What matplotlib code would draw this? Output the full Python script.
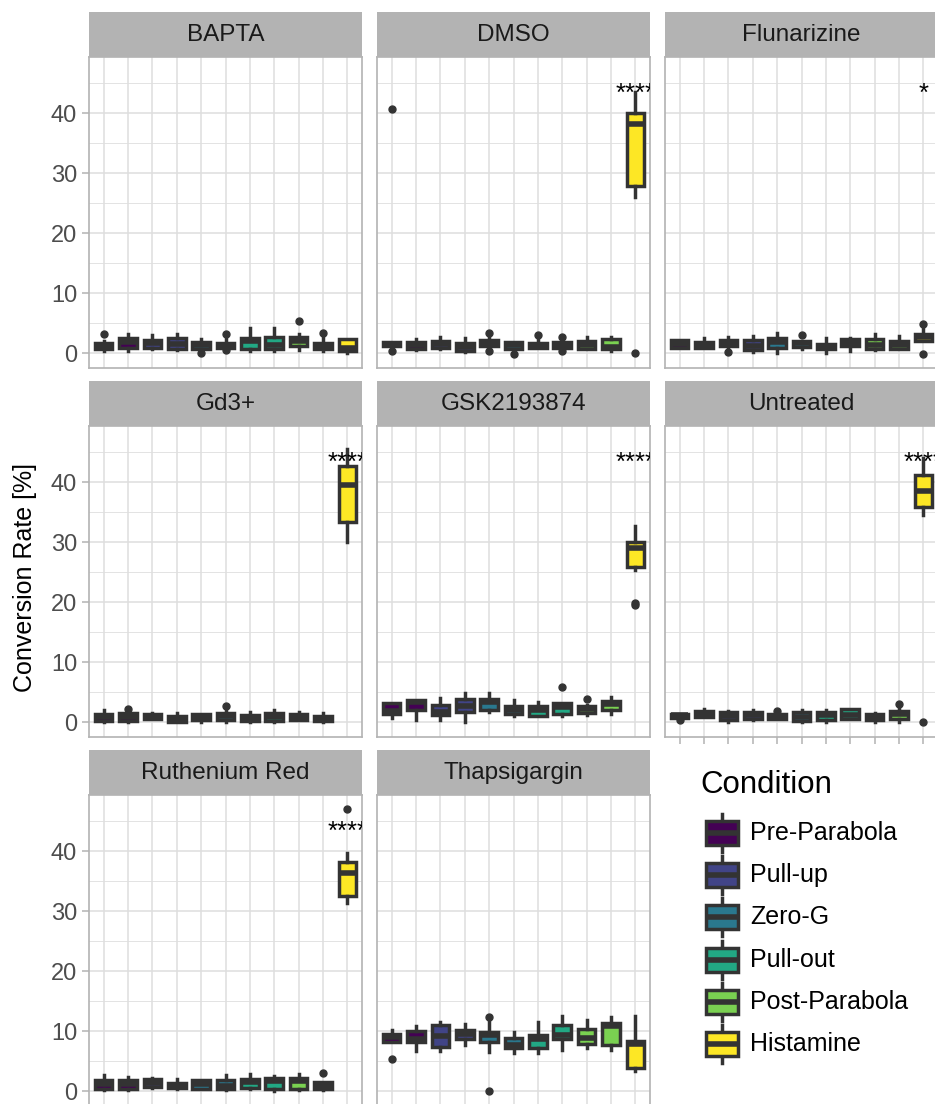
import numpy as np
import matplotlib
matplotlib.use('Agg')
import matplotlib.pyplot as plt
from matplotlib.patches import Rectangle
from matplotlib.ticker import MultipleLocator

plt.rcParams['font.family'] = ['Liberation Sans', 'DejaVu Sans']

# treatments (facets) and conditions (fill)
treatments = ['BAPTA', 'DMSO', 'Flunarizine', 'Gd3+', 'GSK2193874',
              'Untreated', 'Ruthenium Red', 'Thapsigargin']
conditions = ['Pre-Parabola', 'Pull-up', 'Zero-G', 'Pull-out', 'Post-Parabola', 'Histamine']
condition_colors = ['#440154', '#414487', '#2A788E', '#22A884', '#7AD151', '#FDE725']
# condition index of each of the 11 boxes in a panel
box_condition = [0, 0, 1, 1, 2, 2, 3, 3, 4, 4, 5]
stars = ['', '****', '*', '****', '****', '****', '****', '']

# box statistics: whisker low, q1, median, q3, whisker high, outliers
bapta_lo = [0.3, 0.3, 0.6, 0.5, 0.3, 0.8, 0.3, 0.3, 0.5, 0.3, 0.0]
bapta_q1 = [0.7, 0.9, 0.8, 0.7, 0.7, 0.9, 0.7, 0.6, 1.2, 0.6, 0.3]
bapta_med = [1.2, 1.9, 1.6, 1.5, 1.3, 1.3, 2.0, 1.4, 2.0, 1.2, 0.9]
bapta_q3 = [1.6, 2.5, 2.1, 2.5, 1.8, 1.7, 2.5, 2.6, 2.6, 1.7, 2.4]
bapta_hi = [2.0, 3.1, 3.0, 3.1, 2.3, 2.3, 4.1, 4.2, 3.1, 2.6, 2.4]
bapta_out = [[3.1], [], [], [], [0.0], [3.1, 0.45], [], [], [5.3], [3.4], []]

dmso_lo = [0.9, 0.45, 0.6, 0.2, 0.9, 0.7, 0.9, 0.8, 0.7, 0.3, 26.0]
dmso_q1 = [1.1, 0.7, 0.9, 0.3, 1.1, 0.7, 0.9, 0.9, 0.7, 0.6, 27.9]
dmso_med = [1.5, 1.3, 1.5, 1.0, 1.7, 1.4, 1.2, 1.3, 1.4, 1.0, 38.3]
dmso_q3 = [1.8, 1.8, 2.0, 1.7, 2.2, 1.9, 1.6, 1.8, 2.0, 2.3, 40.1]
dmso_hi = [1.8, 2.3, 2.7, 2.5, 2.5, 1.9, 2.3, 2.3, 2.7, 2.7, 43.6]
dmso_out = [[0.3, 40.7], [], [], [], [3.3, 0.3], [-0.1], [3.0], [2.7, 0.3], [], [], [0.0]]

flun_lo = [0.9, 0.8, 0.8, 0.2, 0.05, 0.6, 0.05, 0.3, 0.5, 0.7, 2.0]
flun_q1 = [0.9, 0.8, 1.1, 0.45, 0.9, 1.0, 0.6, 1.1, 0.7, 0.7, 2.0]
flun_med = [1.5, 1.2, 1.6, 1.1, 1.9, 1.6, 1.0, 1.7, 1.3, 1.4, 2.7]
flun_q3 = [2.1, 1.8, 2.1, 2.2, 2.5, 2.0, 1.45, 2.3, 2.4, 2.0, 3.1]
flun_hi = [2.1, 2.5, 2.7, 2.8, 3.4, 2.0, 2.5, 2.5, 3.2, 2.8, 4.0]
flun_out = [[], [], [0.2], [], [], [3.0], [], [], [], [], [4.8, -0.1]]

gd_lo = [0.0, 0.0, 0.5, 0.0, 0.0, 0.0, 0.0, 0.0, 0.3, 0.0, 30.0]
gd_q1 = [0.2, 0.2, 0.55, 0.0, 0.3, 0.3, 0.1, 0.2, 0.3, 0.2, 33.4]
gd_med = [0.8, 0.9, 1.0, 0.5, 0.9, 1.0, 0.7, 0.9, 0.9, 0.6, 39.5]
gd_q3 = [1.4, 1.45, 1.4, 1.0, 1.4, 1.55, 1.2, 1.5, 1.4, 1.0, 42.8]
gd_hi = [2.0, 1.7, 1.55, 1.55, 1.4, 2.0, 1.7, 2.0, 1.7, 1.45, 45.5]
gd_out = [[], [2.2], [], [], [], [2.7], [], [], [], [], []]

gsk_lo = [0.7, 0.3, 0.3, 0.0, 1.6, 1.0, 1.0, 1.0, 1.2, 1.3, 25.3]
gsk_q1 = [1.4, 1.96, 1.2, 1.6, 2.0, 1.3, 1.0, 1.4, 1.45, 2.0, 25.9]
gsk_med = [1.85, 3.4, 1.7, 2.7, 3.4, 2.0, 2.0, 2.5, 2.1, 3.0, 29.0]
gsk_q3 = [3.25, 3.7, 2.8, 3.8, 3.8, 2.7, 2.7, 3.1, 2.6, 3.5, 30.0]
gsk_hi = [3.25, 3.7, 4.0, 4.9, 4.8, 3.6, 3.4, 3.1, 2.9, 4.25, 32.7]
gsk_out = [[], [], [], [], [], [], [], [5.9], [3.8], [], [19.6, 19.9]]

untr_lo = [0.6, 0.85, 0.0, 0.4, 0.45, 0.0, 0.0, 0.55, 0.0, 0.0, 34.6]
untr_q1 = [0.6, 0.85, 0.35, 0.55, 0.45, 0.15, 0.3, 0.55, 0.35, 0.45, 35.9]
untr_med = [1.1, 1.4, 1.0, 1.2, 1.0, 0.9, 1.1, 1.1, 0.9, 1.4, 38.5]
untr_q3 = [1.4, 1.85, 1.6, 1.7, 1.4, 1.6, 1.75, 2.1, 1.3, 1.85, 41.2]
untr_hi = [1.4, 2.1, 1.85, 2.0, 1.4, 2.0, 2.0, 2.1, 1.55, 2.4, 44.0]
untr_out = [[0.3], [], [], [], [1.9], [], [], [], [], [3.0], [0.0]]

ruth_lo = [0.2, 0.2, 0.45, 0.3, 0.3, 0.1, 0.3, 0.0, 0.2, 0.2, 31.3]
ruth_q1 = [0.3, 0.3, 0.6, 0.45, 0.3, 0.3, 0.45, 0.3, 0.3, 0.3, 32.5]
ruth_med = [1.1, 1.1, 1.3, 0.9, 1.1, 0.85, 1.55, 1.6, 1.7, 0.9, 36.3]
ruth_q3 = [1.8, 1.8, 2.0, 1.4, 1.8, 1.8, 2.0, 2.1, 2.2, 1.55, 38.2]
ruth_hi = [2.7, 2.3, 2.2, 1.95, 1.8, 2.7, 2.9, 2.55, 2.8, 1.55, 39.7]
ruth_out = [[], [], [], [], [], [], [], [], [], [3.0], [47.0]]

thap_lo = [8.25, 6.6, 6.6, 7.6, 6.5, 6.3, 6.3, 6.8, 7.2, 6.8, 3.4]
thap_q1 = [8.25, 8.1, 7.3, 8.6, 8.1, 7.1, 7.2, 8.6, 7.9, 7.6, 3.9]
thap_med = [9.0, 8.7, 9.2, 9.5, 9.4, 7.6, 8.6, 9.4, 8.9, 10.8, 7.8]
thap_q3 = [9.5, 10.0, 11.0, 10.2, 9.9, 8.9, 9.4, 11.0, 10.3, 11.3, 8.4]
thap_hi = [10.2, 10.8, 11.5, 11.2, 11.6, 9.9, 11.6, 12.5, 11.9, 12.3, 12.6]
thap_out = [[5.4], [], [], [], [12.3, 0.0], [], [], [], [], [], []]

panel_stats = [
    (bapta_lo, bapta_q1, bapta_med, bapta_q3, bapta_hi, bapta_out),
    (dmso_lo, dmso_q1, dmso_med, dmso_q3, dmso_hi, dmso_out),
    (flun_lo, flun_q1, flun_med, flun_q3, flun_hi, flun_out),
    (gd_lo, gd_q1, gd_med, gd_q3, gd_hi, gd_out),
    (gsk_lo, gsk_q1, gsk_med, gsk_q3, gsk_hi, gsk_out),
    (untr_lo, untr_q1, untr_med, untr_q3, untr_hi, untr_out),
    (ruth_lo, ruth_q1, ruth_med, ruth_q3, ruth_hi, ruth_out),
    (thap_lo, thap_q1, thap_med, thap_q3, thap_hi, thap_out),
]

W, H = 935, 1104
fig = plt.figure(figsize=(W / 100, H / 100), dpi=100)


def rect(x0, top, w, h):
    return [x0 / W, 1 - (top + h) / H, w / W, h / H]


col_x = [89, 377, 665]
row_top = [57, 426, 795]
pw, ph, sh = 273, 311, 45
edge = '#333333'
grid_c = '#DEDEDE'
positions = np.arange(1, 12)

for k, name in enumerate(treatments):
    r, c = divmod(k, 3)
    ax = fig.add_axes(rect(col_x[c], row_top[r], pw, ph))
    lo, q1, med, q3, hi, out = panel_stats[k]
    stats = []
    for i in range(11):
        stats.append(dict(whislo=lo[i], q1=q1[i], med=med[i], q3=q3[i],
                          whishi=hi[i], fliers=out[i]))
    bp = ax.bxp(stats, positions=positions, widths=0.72, patch_artist=True,
                showcaps=False,
                boxprops=dict(edgecolor=edge, linewidth=2.5),
                medianprops=dict(color=edge, linewidth=4.0, solid_capstyle='butt'),
                whiskerprops=dict(color=edge, linewidth=2.5),
                flierprops=dict(marker='o', markerfacecolor=edge,
                                markeredgecolor=edge, markersize=5))
    for i, patch in enumerate(bp['boxes']):
        patch.set_facecolor(condition_colors[box_condition[i]])
    for art in bp['boxes'] + bp['medians'] + bp['whiskers'] + bp['fliers']:
        art.set_zorder(3)

    if stars[k]:
        ax.text(11, 42.0, stars[k], ha='center', va='baseline', fontsize=18.5,
                color='black', clip_on=True, zorder=4)

    ax.set_xlim(0.4, 11.6)
    ax.set_ylim(-2.5, 49.4)
    ax.yaxis.set_major_locator(MultipleLocator(10))
    ax.yaxis.set_minor_locator(MultipleLocator(5))
    ax.set_xticks(positions)
    ax.set_xticklabels([])
    ax.grid(which='major', color=grid_c, linewidth=1.1, zorder=0)
    ax.grid(which='minor', axis='y', color=grid_c, linewidth=0.6, zorder=0)
    ax.set_axisbelow(True)
    for s in ax.spines.values():
        s.set_color('#B3B3B3')
        s.set_linewidth(1.2)
    ax.tick_params(which='minor', length=0)
    ax.tick_params(axis='y', length=5, width=1.1, color='#B3B3B3', pad=3.5,
                   labelsize=17, labelcolor='#4D4D4D')
    ax.tick_params(axis='x', length=5, width=1.1, color='#B3B3B3')
    if c != 0:
        ax.tick_params(axis='y', left=False, labelleft=False)
    if name not in ('Untreated', 'Ruthenium Red', 'Thapsigargin'):
        ax.tick_params(axis='x', bottom=False)

    sax = fig.add_axes(rect(col_x[c], row_top[r] - sh, pw, sh))
    sax.set_facecolor('#B3B3B3')
    sax.set_xticks([])
    sax.set_yticks([])
    for s in sax.spines.values():
        s.set_visible(False)
    sax.text(0.5, 0.48, name, ha='center', va='center', fontsize=17.5,
             color='#1A1A1A', transform=sax.transAxes)

fig.text(25 / W, 1 - 578 / H, 'Conversion Rate [%]', rotation=90,
         ha='center', va='center', fontsize=18, color='black')

# legend drawn in pixel space
lax = fig.add_axes([0, 0, 1, 1], facecolor='none')
lax.set_xlim(0, W)
lax.set_ylim(H, 0)
lax.axis('off')
lax.text(700, 785, 'Condition', ha='left', va='center', fontsize=22.5)
for i, (cond, col) in enumerate(zip(conditions, condition_colors)):
    yc = 833 + 42.2 * i
    lax.plot([722, 722], [yc - 19, yc + 19], color=edge, lw=2.5, zorder=1)
    lax.add_patch(Rectangle((706, yc - 12), 32, 24, facecolor=col,
                            edgecolor=edge, lw=2.5, zorder=2))
    lax.plot([706, 738], [yc, yc], color=edge, lw=4.0, solid_capstyle='butt', zorder=3)
    lax.text(750, yc, cond, ha='left', va='center', fontsize=18)

fig.savefig('out.png', dpi=100)
